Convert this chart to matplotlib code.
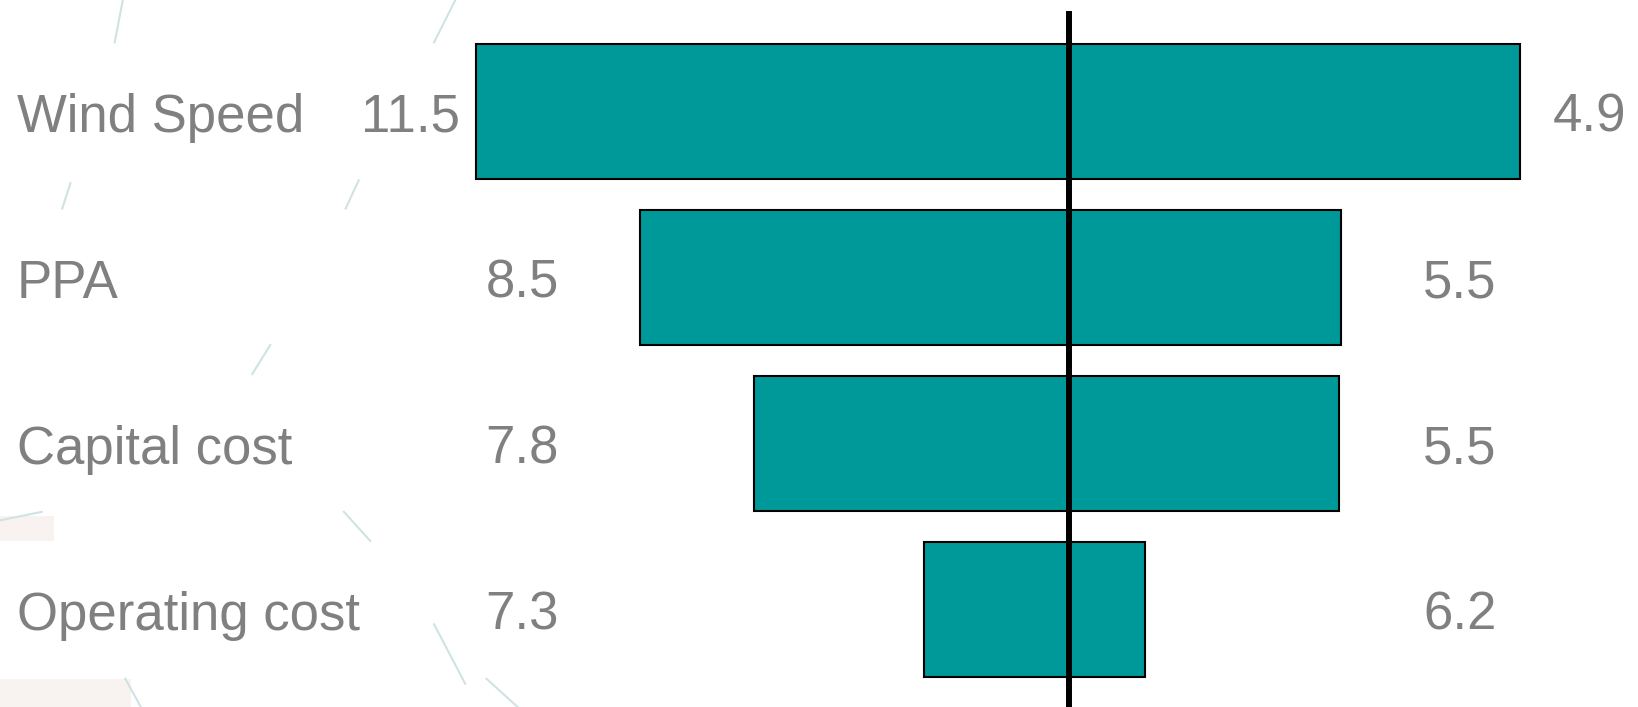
import matplotlib.pyplot as plt
from matplotlib.patches import Rectangle

plt.rcParams['font.family'] = ['Liberation Sans', 'DejaVu Sans']

# tornado data: bar extents either side of the base case, and the printed values
categories = ["Wind Speed", "PPA", "Capital cost", "Operating cost"]
low_ext = [-5.93, -4.29, -3.15, -1.45]
high_ext = [4.51, 2.72, 2.70, 0.76]
low_labels = ["11.5", "8.5", "7.8", "7.3"]
high_labels = ["4.9", "5.5", "5.5", "6.2"]

bar_color = "#009999"
text_color = "#808080"
deco_color = "#cfe3e3"

fig = plt.figure(figsize=(16.38, 7.07), dpi=100)
ax = fig.add_axes([0, 0, 1, 1])
ax.set_xlim(-10.69, 5.69)
ax.set_ylim(3.587, -0.672)
ax.axis('off')

# faint background decoration (axes fraction coords)
deco = [((0.070, 0.94), (0.075, 1.0)), ((0.265, 0.94), (0.278, 1.0)),
        ((0.038, 0.705), (0.043, 0.741)), ((0.211, 0.705), (0.219, 0.745)),
        ((0.154, 0.471), (0.165, 0.512)),
        ((0.0, 0.264), (0.0255, 0.276)), ((0.210, 0.276), (0.226, 0.235)),
        ((0.265, 0.117), (0.284, 0.033)),
        ((0.0765, 0.04), (0.086, 0.0)), ((0.297, 0.04), (0.316, 0.0))]
for (x0, y0), (x1, y1) in deco:
    ax.plot([x0, x1], [y0, y1], transform=ax.transAxes, color=deco_color,
            lw=1.5, zorder=0)
ax.add_patch(Rectangle((0, 0), 0.08, 0.04, transform=ax.transAxes,
                       facecolor="#f8f3f1", edgecolor='none', zorder=-1))
ax.add_patch(Rectangle((0, 0.235), 0.033, 0.035, transform=ax.transAxes,
                       facecolor="#f8f3f1", edgecolor='none', zorder=-1))

ypos = list(range(len(categories)))
widths = [h - l for l, h in zip(low_ext, high_ext)]
ax.barh(ypos, widths, left=low_ext, height=0.813, color=bar_color,
        edgecolor='black', linewidth=1.5, zorder=2)

ax.axvline(0, ymin=0, ymax=0.98, color='black', lw=4.3, zorder=3)

fs = 38
for i, cat in enumerate(categories):
    yb = i + 0.123
    ax.text(0.0104, yb, cat, transform=ax.get_yaxis_transform(),
            fontsize=fs, color=text_color, ha='left', va='baseline')
    xl = min(low_ext[i] - 0.16, -5.10)
    ax.text(xl, yb, low_labels[i], fontsize=fs, color=text_color,
            ha='right', va='baseline')
    xr = max(high_ext[i] + 0.33, 3.54)
    ax.text(xr, yb, high_labels[i], fontsize=fs, color=text_color,
            ha='left', va='baseline')

fig.savefig('out.png', dpi=100)
